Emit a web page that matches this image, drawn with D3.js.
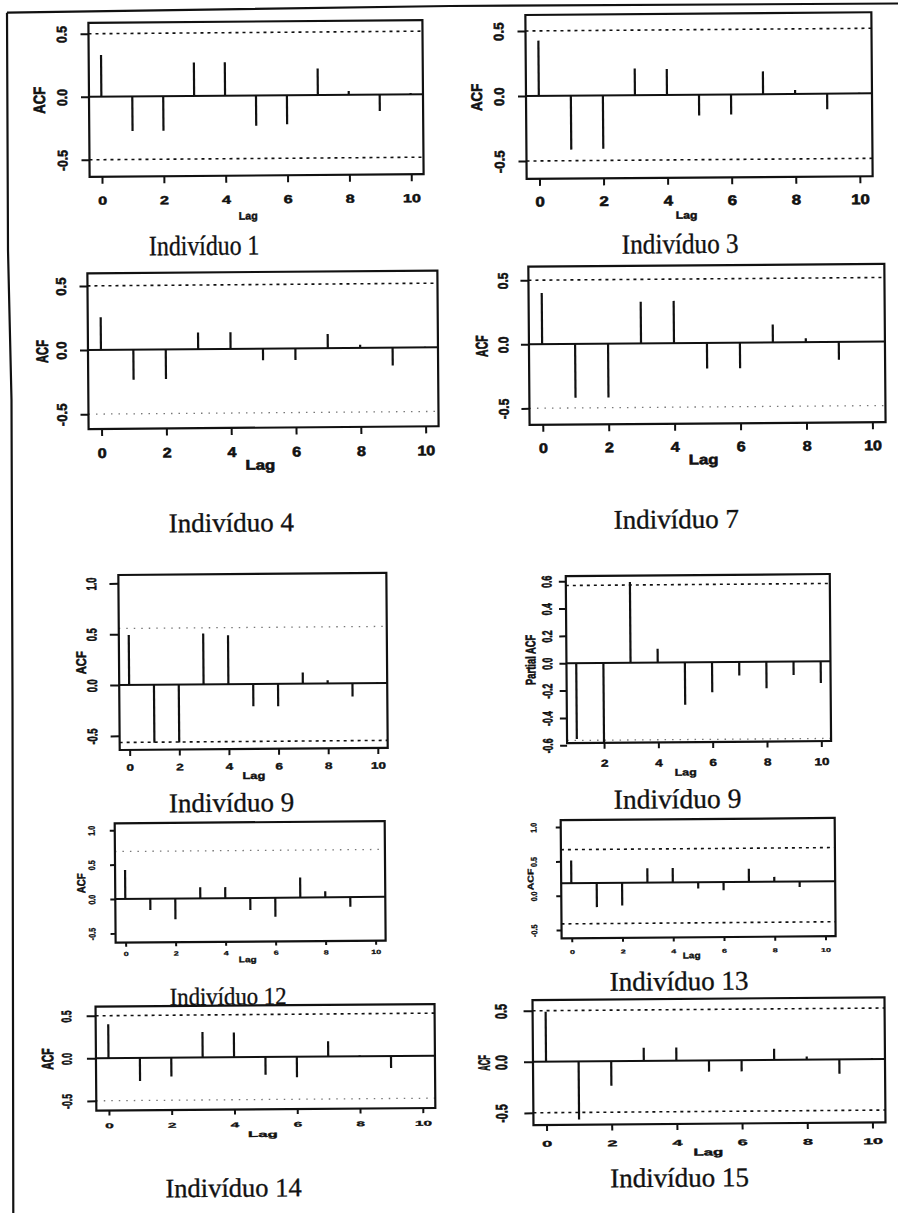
<!DOCTYPE html>
<html>
<head>
<meta charset="utf-8">
<script src="https://cdn.jsdelivr.net/npm/d3@7"></script>
<style>
  body { margin: 0; background: #fff; }
  svg { display: block; }
  .axt { font-family: "Liberation Sans", Arial, sans-serif; font-weight: bold; font-size: 14px; fill: #111; stroke: #111; stroke-width: 0.6px; }
  .ttl { font-family: "Liberation Serif", "Times New Roman", serif; fill: #111; stroke: #111; stroke-width: 0.35px; }
</style>
</head>
<body>
<svg id="fig" width="898" height="1213"></svg>
<script>
// lags and tick values
var lags = [0, 1, 2, 3, 4, 5, 6, 7, 8, 9, 10];
var pacfLags = [1, 2, 3, 4, 5, 6, 7, 8, 9, 10];
var lagTicks = [0, 2, 4, 6, 8, 10];
var pacfLagTicks = [2, 4, 6, 8, 10];
var acfTicks = [-0.5, 0, 0.5];
var acfTicksTall = [-0.5, 0, 0.5, 1];
var pacfTicks = [-0.6, -0.4, -0.2, 0, 0.2, 0.4, 0.6];

// autocorrelations
var acf1 = [0.33, -0.275, -0.275, 0.265, 0.265, -0.24, -0.23, 0.21, 0.03, -0.13, 0.01];
var acf3 = [0.425, -0.415, -0.41, 0.205, 0.2, -0.16, -0.155, 0.175, 0.03, -0.12, 0.005];
var acf4 = [0.255, -0.235, -0.23, 0.13, 0.13, -0.09, -0.09, 0.11, 0.025, -0.14, 0.005];
var acf7 = [0.4, -0.42, -0.42, 0.325, 0.33, -0.2, -0.2, 0.14, 0.03, -0.14, 0.005];
var acf9 = [0.49, -0.57, -0.57, 0.5, 0.48, -0.22, -0.22, 0.11, 0.03, -0.13, 0.005];
var pacf9 = [-0.555, -0.59, 0.59, 0.1, -0.31, -0.22, -0.1, -0.195, -0.1, -0.16];
var acf12 = [0.42, -0.165, -0.3, 0.16, 0.16, -0.175, -0.275, 0.29, 0.09, -0.14, 0.005];
var acf13 = [0.33, -0.35, -0.33, 0.21, 0.21, -0.09, -0.12, 0.19, 0.07, -0.08, 0.005];
var acf14 = [0.4, -0.27, -0.22, 0.3, 0.29, -0.21, -0.24, 0.18, 0.01, -0.14, 0.005];
var acf15 = [0.49, -0.57, -0.24, 0.13, 0.13, -0.11, -0.11, 0.11, 0.03, -0.14, 0.01];

// confidence bounds [lower, upper]
var ciBounds = [
  [-0.5, 0.5], [-0.5, 0.5], [-0.5, 0.5], [-0.5, 0.5], [-0.565, 0.556],
  [-0.565, 0.568], [-0.69, 0.69], [-0.59, 0.49], [-0.5, 0.5], [-0.5, 0.5]
];

var titles = ["Indivíduo 1", "Indivíduo 3", "Indivíduo 4", "Indivíduo 7", "Indivíduo 9",
  "Indivíduo 9", "Indivíduo 12", "Indivíduo 13", "Indivíduo 14", "Indivíduo 15"];

var ciStyles = {
  dash: { color: "#111", w: 1.6, dash: "3,4" },
  dot: { color: "#777", w: 1.3, dash: "1.5,6" }
};

// layout of each scanned panel (box = [left, right, top, bottom])
// xt/yt/lab/yl = [scaleX, scaleY, offset, (lag position)]
var panels = [
  { vals: acf1, lags: lags, xticks: lagTicks, yticks: acfTicks, ylab: "ACF",
    box: [93, 427, 20, 174], xdom: [-0.4, 10.4], ydom: [-0.635, 0.587], shift: 0,
    ciStyle: ["dash", "dash"], tl: 7, ytl: 8,
    xt: [1.15, 0.83, 28], yt: [1.0, 0.87, 22], lab: [0.76, 0.77, 44, 4.72], yl: [1.17, 0.94, 44],
    ttl: [207, 253, 28, 0.85] },
  { vals: acf3, lags: lags, xticks: lagTicks, yticks: acfTicks, ylab: "ACF",
    box: [530, 876, 15.6, 179.6], xdom: [-0.4, 10.4], ydom: [-0.638, 0.623], shift: 0,
    ciStyle: ["dash", "dash"], tl: 7, ytl: 8,
    xt: [1.2, 1.0, 27.7], yt: [1.0, 0.95, 22], lab: [0.87, 0.75, 41, 4.58], yl: [1.1, 0.95, 44],
    ttl: [683, 255, 28, 0.9] },
  { vals: acf4, lags: lags, xticks: lagTicks, yticks: acfTicks, ylab: "ACF",
    box: [90, 440, 270.5, 426.2], xdom: [-0.4, 10.4], ydom: [-0.616, 0.598], shift: 0,
    ciStyle: ["dot", "dash"], tl: 7, ytl: 8,
    xt: [1.15, 1.0, 29], yt: [1.0, 0.94, 21.6], lab: [1.2, 1.0, 42, 4.89], yl: [1.2, 0.8, 40],
    ttl: [232, 530, 27, 1] },
  { vals: acf7, lags: lags, xticks: lagTicks, yticks: acfTicks, ylab: "ACF",
    box: [531, 887, 267.3, 425.6], xdom: [-0.4, 10.4], ydom: [-0.63, 0.606], shift: 0,
    ciStyle: ["dot", "dash"], tl: 7, ytl: 8,
    xt: [1.15, 1.0, 28], yt: [1.0, 0.86, 20.7], lab: [1.2, 1.0, 40.7, 4.87], yl: [1.2, 0.75, 41.4],
    ttl: [677, 530, 27, 1] },
  { vals: acf9, lags: lags, xticks: lagTicks, yticks: acfTicksTall, ylab: "ACF",
    box: [118.6, 386.6, 572.4, 747.4], xdom: [-0.4, 10.4], ydom: [-0.639, 1.082], shift: 0,
    ciStyle: ["dash", "dot"], tl: 6, ytl: 9,
    xt: [0.96, 0.67, 20.7], yt: [1.0, 0.67, 22.3], lab: [0.92, 0.7, 30, 5.0], yl: [1.0, 0.8, 33],
    ttl: [230, 810, 27, 1] },
  { vals: pacf9, lags: pacfLags, xticks: pacfLagTicks, yticks: pacfTicks, ylab: "Partial ACF",
    box: [566, 830, 577, 744], xdom: [0.64, 10.36], ydom: [-0.584, 0.637], shift: 0,
    ciStyle: ["dot", "dash"], tl: 6, ytl: 7,
    xt: [0.96, 0.73, 24], yt: [1.0, 0.62, 14.3], lab: [0.88, 0.7, 33.4, 5.0], yl: [1.0, 0.67, 31],
    ttl: [676, 810, 27.5, 1] },
  { vals: acf12, lags: lags, xticks: lagTicks, yticks: acfTicksTall, ylab: "ACF",
    box: [113, 383, 820.7, 940.1], xdom: [-0.4, 10.4], ydom: [-0.636, 1.10], shift: 0,
    ciStyle: ["dot", "dot"], tl: 4, ytl: 5,
    xt: [0.64, 0.43, 13.3], yt: [0.67, 0.51, 20], lab: [0.72, 0.57, 20.6, 4.88], yl: [0.83, 0.69, 30],
    ttl: [225, 1003, 25, 0.91] },
  // this pasted plot has its y labels offset from the zero line
  { vals: acf13, lags: lags, xticks: lagTicks, yticks: acfTicksTall, ylab: "ACF",
    box: [559, 833, 821, 939.2], xdom: [-0.4, 10.4], ydom: [-0.80, 0.92], shift: 0.18,
    ciStyle: ["dash", "dash"], tl: 4, ytl: 5,
    xt: [0.64, 0.4, 15.7], yt: [0.6, 0.51, 24.3], lab: [0.72, 0.6, 21, 4.72], yl: [0.6, 0.75, 27.7],
    ttl: [676, 992, 27, 1] },
  { vals: acf14, lags: lags, xticks: lagTicks, yticks: acfTicks, ylab: "ACF",
    box: [92.4, 431.4, 1003.9, 1107.9], xdom: [-0.4, 10.4], ydom: [-0.616, 0.607], shift: 0,
    ciStyle: ["dot", "dash"], tl: 5, ytl: 9,
    xt: [1.09, 0.5, 17.6], yt: [1.0, 0.62, 24.3], lab: [1.2, 0.57, 27.6, 4.9], yl: [1.17, 0.75, 42.7],
    ttl: [229, 1195, 26.5, 1] },
  { vals: acf15, lags: lags, xticks: lagTicks, yticks: acfTicks, ylab: "ACF",
    box: [529.4, 881.4, 1000.7, 1125.7], xdom: [-0.4, 10.4], ydom: [-0.62, 0.605], shift: 0,
    ciStyle: ["dash", "dash"], tl: 6, ytl: 9,
    xt: [1.28, 0.6, 21.7], yt: [1.17, 0.77, 26], lab: [1.2, 0.7, 31.7, 4.96], yl: [1.17, 0.55, 43.3],
    ttl: [675, 1188.5, 27, 1] }
];

var svg = d3.select("#fig");
var defs = svg.append("defs");

// outer frame of the scanned page
var frame = d3.line();
svg.append("path").attr("d", frame([[7, 12.7], [450, 6], [898, 3.5]]))
  .attr("fill", "none").attr("stroke", "#111").attr("stroke-width", 2.2);
svg.append("path").attr("d", frame([[7, 12.7], [8, 250], [11.5, 400], [12.5, 700], [13.3, 1213]]))
  .attr("fill", "none").attr("stroke", "#111").attr("stroke-width", 2.2);

// the page is slightly tilted in the scan
var page = svg.append("g").attr("transform", "rotate(-0.45,449,606)");

panels.forEach(function(p, i) {
  var x = d3.scaleLinear().domain(p.xdom).range([p.box[0], p.box[1]]);
  var y = d3.scaleLinear().domain(p.ydom).range([p.box[3], p.box[2]]);
  var yAxisScale = y.copy().domain(p.ydom.map(function(v) { return v + p.shift; }));
  var w = p.box[1] - p.box[0];
  var h = p.box[3] - p.box[2];

  var g = page.append("g").attr("class", "panel");

  defs.append("clipPath").attr("id", "clip" + i)
    .append("rect")
    .attr("x", p.box[0]).attr("y", p.box[2])
    .attr("width", w).attr("height", h);

  var plot = g.append("g").attr("clip-path", "url(#clip" + i + ")");

  // confidence bounds
  plot.selectAll(".ci")
    .data(ciBounds[i].map(function(v, k) { return { v: v, st: ciStyles[p.ciStyle[k]] }; }))
    .enter()
    .append("line")
    .attr("class", "ci")
    .attr("x1", p.box[0]).attr("x2", p.box[1])
    .attr("y1", function(d) { return y(d.v); })
    .attr("y2", function(d) { return y(d.v); })
    .attr("stroke", function(d) { return d.st.color; })
    .attr("stroke-width", function(d) { return d.st.w; })
    .attr("stroke-dasharray", function(d) { return d.st.dash; });

  // zero line
  plot.append("line")
    .attr("x1", p.box[0]).attr("x2", p.box[1])
    .attr("y1", y(0)).attr("y2", y(0))
    .attr("stroke", "#111").attr("stroke-width", 2);

  // spikes
  plot.selectAll(".stem")
    .data(p.vals.map(function(v, k) { return { lag: p.lags[k], v: v }; }))
    .enter()
    .append("line")
    .attr("class", "stem")
    .attr("x1", function(d) { return x(d.lag); })
    .attr("x2", function(d) { return x(d.lag); })
    .attr("y1", y(0))
    .attr("y2", function(d) { return y(d.v); })
    .attr("stroke", "#111").attr("stroke-width", 2.2);

  g.append("rect")
    .attr("x", p.box[0]).attr("y", p.box[2])
    .attr("width", w).attr("height", h)
    .attr("fill", "none").attr("stroke", "#111").attr("stroke-width", 2.2);

  // x axis
  var xa = g.append("g")
    .attr("transform", "translate(0," + p.box[3] + ")")
    .call(d3.axisBottom(x).tickValues(p.xticks).tickSize(p.tl).tickFormat(d3.format("d")));
  xa.select(".domain").remove();
  xa.selectAll("line").attr("stroke", "#111").attr("stroke-width", 2);
  xa.selectAll("text")
    .attr("class", "axt")
    .attr("y", null).attr("dy", null)
    .attr("transform", "translate(0," + p.xt[2] + ") scale(" + p.xt[0] + "," + p.xt[1] + ")");

  // y axis
  var ya = g.append("g")
    .attr("transform", "translate(" + p.box[0] + ",0)")
    .call(d3.axisLeft(yAxisScale).tickValues(p.yticks).tickSize(p.ytl)
      .tickFormat(function(d) { return d.toFixed(1); }));
  ya.select(".domain").remove();
  ya.selectAll("line").attr("stroke", "#111").attr("stroke-width", 2);
  ya.selectAll("text")
    .attr("class", "axt")
    .attr("x", null).attr("dy", null)
    .attr("text-anchor", "middle")
    .attr("transform", "translate(" + (-p.yt[2]) + ",0) scale(" + p.yt[0] + "," + p.yt[1] + ") rotate(-90)");

  // axis titles
  g.append("text")
    .attr("class", "axt")
    .attr("text-anchor", "middle")
    .attr("transform", "translate(" + x(p.lab[3]) + "," + (p.box[3] + p.lab[2]) + ") scale(" + p.lab[0] + "," + p.lab[1] + ")")
    .text("Lag");

  g.append("text")
    .attr("class", "axt")
    .attr("text-anchor", "middle")
    .attr("transform", "translate(" + (p.box[0] - p.yl[2]) + "," + ((p.box[2] + p.box[3]) / 2) + ") scale(" + p.yl[0] + "," + p.yl[1] + ") rotate(-90)")
    .text(p.ylab);

  // caption under the panel
  g.append("text")
    .attr("class", "ttl")
    .attr("text-anchor", "middle")
    .attr("font-size", p.ttl[2])
    .attr("transform", "translate(" + p.ttl[0] + "," + p.ttl[1] + ") scale(" + p.ttl[3] + ",1)")
    .text(titles[i]);
});
</script>
</body>
</html>
